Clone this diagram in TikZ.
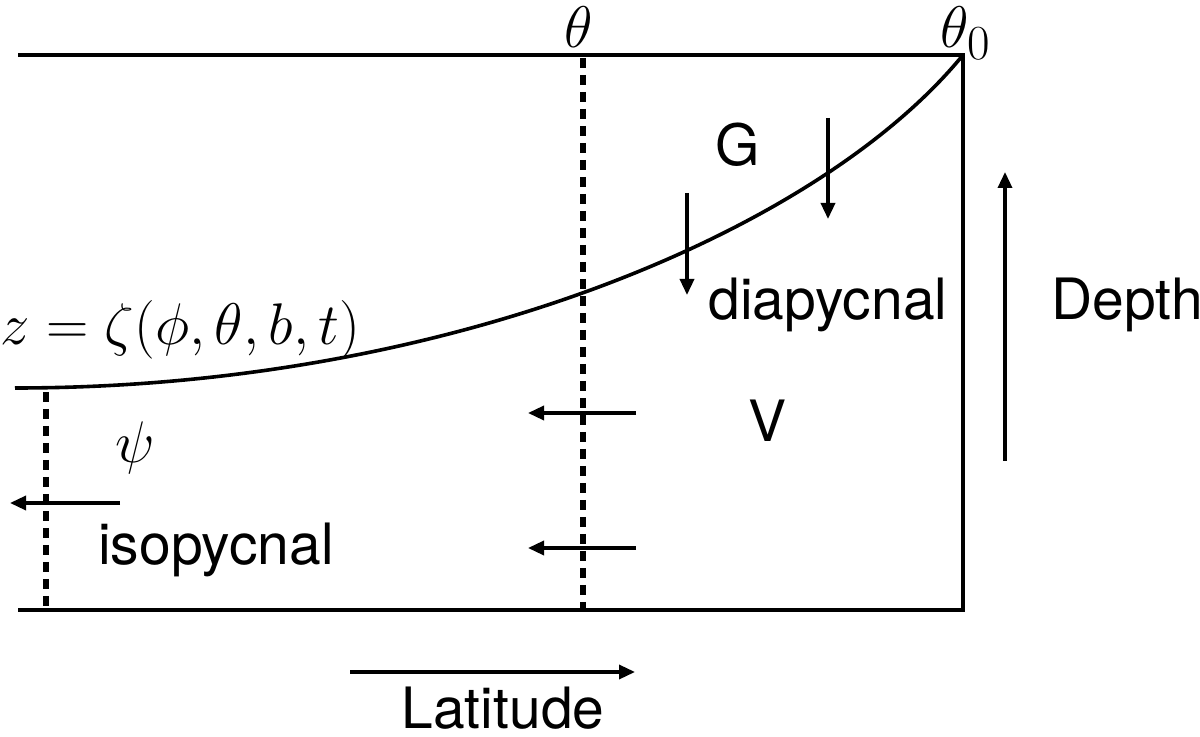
\documentclass[tikz,border=0pt]{standalone}
\usepackage{fontspec}
\setmainfont{TeX Gyre Heros}
\usetikzlibrary{arrows.meta}
\begin{document}
\begin{tikzpicture}[x=0.5pt,y=-0.5pt,
  solid line/.style={line width=1.8pt},
  dashline/.style={line width=3pt,dash pattern=on 5pt off 3.5pt},
  arr/.style={line width=1.7pt,-{Triangle[length=8pt,width=7pt]}},
  lbl/.style={inner sep=0pt,font=\fontsize{28.5}{32}\selectfont},
  mlbl/.style={inner sep=0pt,scale=1.18,font=\fontsize{24.88}{28}\selectfont}]
\useasboundingbox (0,0) rectangle (1200,737);
% frame
\coordinate (TL) at (18,55);
\coordinate (TR) at (963,55);
\coordinate (BL) at (18,610);
\coordinate (BR) at (963,610);
\draw[solid line] (TL) -- (TR) -- (BR) -- (BL);
% isopycnal surface
\coordinate (C0) at (15,388);
\draw[solid line] (C0) .. controls (450,388) and (820,230) .. (TR);
% dashed verticals
\coordinate (D1t) at (583,58);
\coordinate (D1b) at (583,610);
\coordinate (D2t) at (46,392);
\coordinate (D2b) at (46,610);
\draw[dashline] (D1t) -- (D1b);
\draw[dashline] (D2t) -- (D2b);
% horizontal arrows
\coordinate (h1s) at (636,413); \coordinate (h1e) at (528,413);
\coordinate (h2s) at (636,548); \coordinate (h2e) at (528,548);
\coordinate (h3s) at (120,503); \coordinate (h3e) at (10,503);
\draw[arr] (h1s) -- (h1e);
\draw[arr] (h2s) -- (h2e);
\draw[arr] (h3s) -- (h3e);
% vertical arrows
\coordinate (v1s) at (687,193); \coordinate (v1e) at (687,295);
\coordinate (v2s) at (828,118); \coordinate (v2e) at (828,219);
\draw[arr] (v1s) -- (v1e);
\draw[arr] (v2s) -- (v2e);
% depth and latitude
\coordinate (ds) at (1005,461); \coordinate (de) at (1005,172);
\coordinate (ls) at (350,672); \coordinate (le) at (635,672);
\draw[arr] (ds) -- (de);
\draw[arr] (ls) -- (le);
% labels
\node[mlbl] (theta) at (579,27) {$\theta$};
\node[mlbl] (theta0) at (966,33) {$\theta_0$};
\node[lbl] (G) at (738,145) {G};
\node[lbl] (dia) at (828,305) {diapycnal};
\node[lbl] (depth) at (1127,305) {Depth};
\node[mlbl,anchor=west] (zeta) at (0,330) {$z=\zeta(\phi,\theta,b,t)$};
\node[lbl] (V) at (768,421) {V};
\node[mlbl] (psi) at (135,448) {$\psi$};
\node[lbl] (iso) at (216,550) {isopycnal};
\node[lbl] (lat) at (503,708) {Latitude};
\end{tikzpicture}
\end{document}
